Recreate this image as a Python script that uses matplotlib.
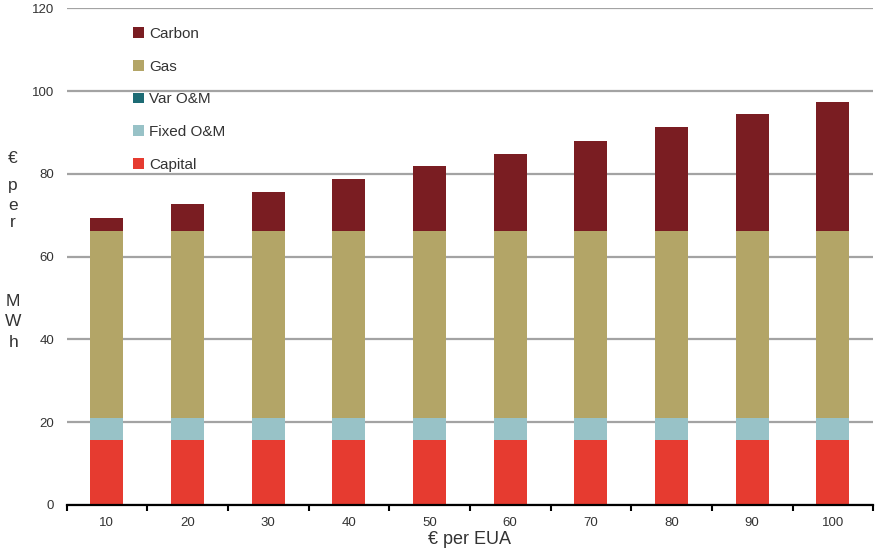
import matplotlib
matplotlib.use('Agg')
import matplotlib.pyplot as plt
import numpy as np

plt.rcParams['font.family'] = ['Liberation Sans', 'DejaVu Sans']

# data
eua_prices = ['10', '20', '30', '40', '50', '60', '70', '80', '90', '100']
capital = [15.7, 15.7, 15.7, 15.7, 15.7, 15.7, 15.7, 15.7, 15.7, 15.7]
fixed_om = [5.3, 5.3, 5.3, 5.3, 5.3, 5.3, 5.3, 5.3, 5.3, 5.3]
var_om = [0.0, 0.0, 0.0, 0.0, 0.0, 0.0, 0.0, 0.0, 0.0, 0.0]
gas = [45.2, 45.2, 45.2, 45.2, 45.2, 45.2, 45.2, 45.2, 45.2, 45.2]
carbon = [3.2, 6.4, 9.5, 12.6, 15.7, 18.7, 21.8, 25.0, 28.2, 31.1]

series = [
    ('Capital', capital, '#e63b30'),
    ('Fixed O&M', fixed_om, '#98c2c7'),
    ('Var O&M', var_om, '#1d6b74'),
    ('Gas', gas, '#b3a567'),
    ('Carbon', carbon, '#7a1d22'),
]

fig = plt.figure(figsize=(8.75, 5.5), dpi=100)
ax = fig.add_axes([0.076, 0.082, 0.922, 0.903])

x = np.arange(len(eua_prices))
bottom = np.zeros(len(eua_prices))
handles = []
for name, vals, col in series:
    b = ax.bar(x, vals, width=0.41, bottom=bottom, color=col, label=name, zorder=3)
    handles.append(b)
    bottom += np.array(vals)

ax.set_xlim(-0.5, len(eua_prices) - 0.5)
ax.set_ylim(0, 120)
ax.set_yticks(range(0, 121, 20))
ax.yaxis.grid(True, color='#a3a3a3', linewidth=1.6, zorder=0)
ax.set_axisbelow(True)

for s in ['left', 'right', 'top']:
    ax.spines[s].set_visible(False)
ax.spines['bottom'].set_color('black')
ax.spines['bottom'].set_linewidth(1.6)
ax.spines['bottom'].set_zorder(4)

ax.set_xticks(x)
ax.set_xticklabels(eua_prices, fontsize=9.5, color='#333333')
ax.set_xticks(np.arange(-0.5, len(eua_prices)), minor=True)
ax.tick_params(axis='x', which='major', length=0, pad=9)
ax.tick_params(axis='x', which='minor', length=4, width=1.5, direction='out', color='black')
ax.tick_params(axis='y', length=0, labelsize=9.5, labelcolor='#333333', pad=9)

ax.set_xlabel('€ per EUA', fontsize=13, color='#333333', labelpad=1)

# stacked vertical y label
ylab = [('€', 0.712), ('p', 0.662), ('e', 0.627), ('r', 0.596), ('M', 0.451), ('W', 0.415), ('h', 0.378)]
for ch, yy in ylab:
    fig.text(0.015, yy, ch, fontsize=12.5, color='#333333', ha='center', va='center')

leg = ax.legend(handles[::-1], [s[0] for s in series][::-1], loc='upper left',
                bbox_to_anchor=(0.066, 0.99), frameon=False, fontsize=11,
                handlelength=0.7, handleheight=0.7, handletextpad=0.3,
                labelspacing=1.22)
for t in leg.get_texts():
    t.set_color('#333333')

fig.savefig('out.png', dpi=100)
